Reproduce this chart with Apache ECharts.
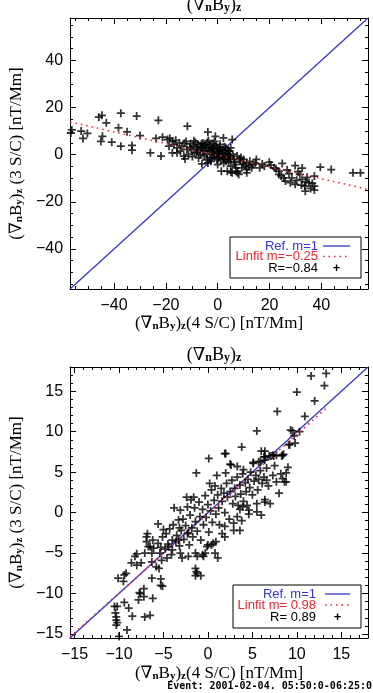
<!DOCTYPE html>
<html>
<head>
<meta charset="utf-8">
<script src="https://cdn.jsdelivr.net/npm/echarts@6/dist/echarts.min.js"></script>
<style>
  html, body { margin: 0; padding: 0; background: #fff; }
  #container { width: 373px; height: 693px; }
</style>
</head>
<body>
<div id="container"></div>
<script>
// axis ranges and ticks
var topRange = [-57, 58];
var topTicks = [-40, -20, 0, 20, 40];
var topMinorStep = 5;
var botRange = [-15.5, 18];
var botTicks = [-15, -10, -5, 0, 5, 10, 15];
var botMinorStep = 1;

// fitted lines, end points
var fitTopX = [-57, 58];
var fitTopY = [13.9, -14.7];
var fitBotX = [-15.5, 13.5];
var fitBotY = [-15.35, 13.1];

// legend texts
var topLegend = ['Ref. m=1', 'Linfit m=\u22120.25', 'R=\u22120.84'];
var botLegend = ['Ref. m=1', 'Linfit m= 0.98', 'R= 0.89'];

// (grad_n B_y)_z, 4 S/C (x) against 3 S/C (y), upper panel
var topPoints = [
  [-56.7,9.2],[-56.3,10.5],[-52.7,10],[-52,6.9],[-50.3,9],[-45.9,15.9],[-44.7,16.7],[-45.1,5.6],
  [-44.5,7.8],[-43,13.5],[-40.9,5.3],[-38.3,11.4],[-37.4,17.6],[-37.4,3.6],[-35,9.7],[-33.1,3.9],
  [-33.1,1.9],[-31.3,16.4],[-30,8.1],[-26,0.8],[-23.8,6.9],[-22.9,14.6],[-21.9,-0.6],[-11.7,12.1],
  [-3.8,9.6],[-0.9,7.8],[2.2,7.1],[5.6,6.4],
  [-21.3,7.4],[-19.4,6.4],[-18.5,7.0],[-17.5,5.7],[-16.9,4.3],[-18.8,3.6],[-15.7,2.9],[-13.8,3.6],
  [-14.4,1.5],[-15.7,0.8],[-17.5,0.8],[-16.2,6.1],[-14.8,5.0],[-12.9,4.8],[-11.9,2.2],[-11.3,0.1],
  [-12.2,5.6],[-13.1,-0.6],[-12.6,-1.8],[-10.5,4.6],[-10.1,2.2],[-9.4,3.6],
  [-9.0,1.0],[-8.2,0.8],[-8.6,5.2],[-7.6,4.3],[-7.0,2.2],[-6.5,3.1],[-6.1,-3.9],[-5.7,5.0],
  [-5.9,1.4],[-5.2,-0.5],[-4.5,2.9],[-4.8,4.2],[-4.1,0.3],[-3.8,-3.5],[-3.6,6.0],[-3.2,1.5],
  [-2.9,3.9],[-2.4,-1.2],[-2.0,0.8],[-1.8,4.7],[-1.4,2.5],[-1.1,-0.4],[-0.7,3.6],[-0.4,-2.2],
  [0,1.2],[0,-4.2],[0.5,2.2],[0.6,-0.9],[0.9,4.4],[1.2,-2.0],[1.4,-7.0],[1.6,0.3],[1.9,0.8],
  [2.3,-3.6],[2.6,3.4],[3.1,2.9],[3.1,-2.8],[3.4,-0.8],[3.7,-7.0],[4.0,1.8],[4.4,1.5],[4.6,-1.9],
  [5.0,2.9],[5.0,-1.4],[5.0,-4.9],[5.1,-7.3],[5.6,-7.7],[5.8,0.2],
  [-8.0,3.0],[-6.8,0.0],[-5.0,1.8],[-3.0,-1.5],[-2.5,2.0],[-1.5,0.2],[-0.5,1.0],[0.3,-1.5],
  [1.0,1.5],[2.0,-1.0],[2.8,0.5],[3.8,-1.4],[4.2,-3.0],[-9.8,-0.8],[-7.4,-1.4],[-4.4,-2.2],
  [-10.8,3.1],[-9.2,5.9],[-7.9,1.7],[-6.3,4.6],[-5.4,3.5],[-4.0,5.2],[-3.4,2.8],[-2.2,3.2],
  [-1.2,5.6],[-0.2,2.8],[0.8,3.0],[1.8,2.0],[2.4,-1.8],[3.6,0.6],[4.8,-0.4],[-2.6,-2.8],
  [6.2,-2.0],[6.5,-3.3],[6.8,-4.2],[7.5,-0.6],[7.6,-7.7],[7.5,-7.0],[8.1,-8.4],[8.7,-2.8],
  [9.0,-1.2],[9.3,-5.6],[9.8,-3.9],[10.0,-2.0],[10.6,-4.6],[11.2,-3.5],[11.2,-6.3],[11.2,-7.7],
  [12.4,-2.8],[12.0,-5.0],[13.1,-5.6],[13.7,-4.2],[14.9,-2.0],[14.5,-3.6],[7.0,-5.6],[8.4,-1.9],
  [16.2,-5.6],[17.2,-4.0],[18.0,-4.9],[19.9,-3.2],[20.5,-4.4],[21.8,-5.6],[22.5,-6.0],[23.6,-7.0],
  [23.6,-8.4],[24.5,-9.0],[24.9,-3.7],[25.5,-9.8],[26.1,-11.2],[26.8,-6.5],[27.5,-8.0],[28.0,-11.9],
  [28.6,-9.8],[29.9,-4.6],[29.9,-12.6],[30.5,-10.9],[31.0,-7.2],[31.7,-8.4],[32.3,-12.9],[32.6,-5.7],
  [32.6,-10.5],[33.6,-13.3],[33.8,-15.5],[34.0,-11.5],[34.5,-9.6],[35.2,-11.9],[35.8,-14.3],[36.5,-12.2],
  [37.3,-9.1],[37.3,-13.3],[37.3,-15.0],[39.6,-5.3],[43.8,-6.3],[52.2,-7.7],[55.1,-7.7]
];

// lower panel
var botPoints = [
  [11.6,16.9],[13.3,17.2],[13.1,15.7],[10.0,14.9],[12.0,13.8],[7.8,12.5],[10.9,11.9],[5.5,10.1],
  [9.3,10.2],[9.5,10.1],[10.3,10.0],[9.7,9.5],[9.2,8.4],[9.8,8.6],[3.8,8.1],[2.0,7.3],[6.0,7.6],
  [6.4,7.6],[6.3,6.9],[6.9,7.0],[7.4,7.0],[8.5,7.2],[8.3,7.0],[5.1,6.2],[5.9,6.3],[2.5,6.0],
  [0.1,6.7],[1.9,7.3],[-1.3,4.9],[2.6,5.9],[3.3,5.7],[4.0,5.3],[5.1,6.1],[5.7,6.3],[6.4,6.9],
  [7.1,7.0],[8.4,7.1],[7.5,5.8],[9.0,5.6],[5.7,4.1],[6.8,3.3],[7.7,3.8],[8.6,3.8],[8.0,2.4],
  [6.4,1.6],[7.0,1.1],[6.0,-0.3],[4.6,0.3],[5.5,0.1],[3.6,0.4],[8.8,4.9],[8.4,4.2],[8.8,3.8],
  [9.1,8.4],[7.3,4.6],[8.2,4.8],[6.6,4.0],[6.4,6.5],[7.3,7.1],[7.7,7.1],[5.5,1.1],[6.4,1.3],
  [-1.4,-5.0],[-1.2,-5.4],[-1.4,-6.9],[-1.2,-7.5],[-0.5,-5.4],[-0.3,-5.0],[-0.1,-4.2],[0.8,-5.0],
  [1.1,-5.6],[1.9,-3.0],[2.9,-1.3],[1.9,-1.7],[3.3,-0.5],[3.9,0.7],[4.4,0.9],[-1.3,-7.3],
  [-0.8,-7.8],[-1.4,-7.8],[-2.2,-5.4],[-0.6,-5.2],[0,-4.0],[0.4,-4.0],[0.6,-3.8],[0.9,-3.6],
  [-10.1,-8.1],[-9.4,-7.7],[-9.5,-8.5],[-9.2,-7.5],[-8.6,-6.2],[-7.5,-6.2],[-8.2,-5.4],[-8.0,-6.5],
  [-7.1,-5.0],[-6.3,-5.0],[-6.1,-4.4],[-6.7,-4.2],[-6.9,-3.6],[-7.2,-10.4],[-7.6,-10.0],[-7.8,-10.8],
  [-9.4,-11.1],[-8.9,-11.8],[-10.2,-11.6],[-6.2,-10.6],[-7.2,-9.4],[-5.3,-9.0],[-5.3,-8.2],[-6.3,-8.1],
  [-10.5,-11.6],[-10.4,-12.4],[-10.3,-12.9],[-10.3,-13.3],[-10.2,-13.6],[-10.3,-13.9],[-8.5,-12.8],
  [-7.1,-12.9],[-6.5,-12.7],[-9.1,-14.5],[-10.0,-15.3],[-5.4,-5.0],[-6.3,-6.1],[-5.8,-6.7],[-5.5,-6.9],
  [-3.1,-5.0],[-4.1,-5.2],[-5.2,-5.9],[-5.1,-9.1],[-7.7,-9.9],[-8.0,-5.1],[-6.5,-4.2],[-6.8,-2.6],
  [-6.9,-3.0],[-6.2,-3.4],[-5.6,-3.8],[-5.1,-3.0],[-4.7,-2.6],[-4.0,-3.4],[-3.2,-1.9],[-3.3,-0.9],
  [-3.1,0.3],[-2.3,0.7],[-1.9,1.6],[-4.4,-4.2],[-3.3,-3.4],[-2.2,-2.5],
  [-4.8,-4.5],[-4.5,-3.9],[-4.3,-2.0],[-4.0,-4.6],[-3.9,-1.5],[-3.6,-3.6],[-3.5,-2.8],[-3.2,-4.1],
  [-3.0,-2.2],[-2.8,-0.8],[-2.7,-3.3],[-2.5,-1.6],[-2.3,-2.6],[-2.1,-4.0],[-2.0,-0.3],[-1.8,-1.9],
  [-1.7,-3.0],[-1.5,0.6],[-1.4,-1.1],[-1.2,-2.3],[-1.0,1.3],[-0.9,-0.5],[-0.8,-3.4],[-0.6,0.4],
  [-0.5,-1.5],[-0.3,2.1],[-0.2,-0.6],[0,1.0],[0.1,-2.4],[0.3,0.2],[0.4,2.8],[0.5,-1.2],[0.7,1.5],
  [0.8,3.3],[0.9,-0.2],[1.1,2.2],[1.2,0.6],[1.3,-1.5],[1.5,3.0],[1.6,1.4],[1.8,2.4],[1.9,0.0],
  [2.1,3.6],[2.2,1.9],[2.4,-0.8],[2.5,2.6],[2.7,4.0],[2.8,1.1],[3.0,3.0],[3.1,2.0],[3.3,4.4],
  [3.4,0.9],[3.6,3.4],[3.7,2.3],[3.9,4.8],[4.0,1.4],[4.2,3.7],[4.3,2.6],[4.5,4.1],[4.7,3.1],
  [4.8,5.0],[5.0,2.2],[5.2,3.9],[5.4,4.6],[5.6,2.8],[5.9,5.2],[6.1,3.6],[6.3,4.4],[6.6,5.5],
  [-4.6,-5.6],[-5.0,-2.1],[-5.3,-4.3],[-5.6,-1.4],[-2.9,-5.6],[-1.6,1.9],[0.2,3.6],[1.0,4.6],
  [2.0,4.9],[-2.4,1.9],[-3.8,0.6],[1.6,-2.6],[2.9,-2.2],[3.8,-1.0],[4.6,-0.2],[3.6,-2.2]
];

var black = '#000';
var blue = '#3535d0';
var red = '#e8262e';
var serif = '"Liberation Serif", "DejaVu Serif", serif';
var sans = '"Liberation Sans", Arial, sans-serif';
var plus = 'path://M0,3.9H10V6.1H0Z M3.9,0H6.1V10H3.9Z';

function minorTicks(range, step, major) {
  var out = [];
  var v = Math.ceil(range[0] / step) * step;
  for (; v <= range[1]; v += step) {
    if (major.indexOf(v) < 0) out.push(v);
  }
  return out;
}

function minusSign(v) {
  return String(v).replace('-', '\u2212');
}

var subRich = {
  s: { fontSize: 11, fontWeight: 'bold', fontFamily: serif, verticalAlign: 'bottom', lineHeight: 13 }
};

// 4 axes for one side pair: main + minor on bottom/left, main + minor on top/right
function axisSet(dim, grid, range, major, step, name, nameGap) {
  var minor = minorTicks(range, step, major);
  var line = { color: black, width: 1 };
  var pos = dim == 'x' ? ['bottom', 'top'] : ['left', 'right'];
  var list = [];
  var k;
  for (k = 0; k < 2; k++) {
    list.push({
      type: 'value', gridIndex: grid, position: pos[k],
      min: range[0], max: range[1],
      axisLine: { show: true, onZero: false, lineStyle: line },
      axisTick: { show: true, inside: true, length: 6, customValues: major, lineStyle: line },
      axisLabel: {
        show: k == 0, customValues: major, formatter: minusSign,
        color: black, fontFamily: sans, fontSize: 16, margin: dim == 'x' ? 9 : 7
      },
      splitLine: { show: false },
      name: k == 0 ? name : '',
      nameLocation: 'middle',
      nameGap: nameGap,
      nameTextStyle: { color: black, fontFamily: serif, fontSize: 17, rich: subRich }
    });
    list.push({
      type: 'value', gridIndex: grid, position: pos[k],
      min: range[0], max: range[1],
      axisLine: { show: false, onZero: false },
      axisTick: { show: true, inside: true, length: 3, customValues: minor, lineStyle: line },
      axisLabel: { show: false },
      splitLine: { show: false }
    });
  }
  return list;
}

var xName = '(\u2207{s|n}B{s|y}){s|z}(4 S/C) [nT/Mm]';
var yName = '(\u2207{s|n}B{s|y}){s|z} (3 S/C) [nT/Mm]';

var xAxes = axisSet('x', 0, topRange, topTicks, topMinorStep, xName, 24)
  .concat(axisSet('x', 1, botRange, botTicks, botMinorStep, xName, 27));
var yAxes = axisSet('y', 0, topRange, topTicks, topMinorStep, yName, 43)
  .concat(axisSet('y', 1, botRange, botTicks, botMinorStep, yName, 43));

function refLine(range) {
  return [[range[0], range[0]], [range[1], range[1]]];
}
function pairs(xs, ys) {
  var out = [];
  for (var i = 0; i < xs.length; i++) out.push([xs[i], ys[i]]);
  return out;
}

function panelSeries(axisIndex, points, range, fx, fy) {
  return [{
    type: 'line', xAxisIndex: axisIndex, yAxisIndex: axisIndex,
    data: refLine(range), symbol: 'none', silent: true,
    lineStyle: { color: blue, width: 1.3 }, z: 2
  }, {
    type: 'scatter', xAxisIndex: axisIndex, yAxisIndex: axisIndex,
    data: points, symbol: plus, symbolSize: 8, silent: true,
    itemStyle: { color: black }, z: 3
  }, {
    type: 'line', xAxisIndex: axisIndex, yAxisIndex: axisIndex,
    data: pairs(fx, fy), symbol: 'none', silent: true,
    lineStyle: { color: red, width: 1.5, type: [1.5, 4] }, z: 4
  }];
}

function legendBox(x, y, w, h, rows, texts, tx, lx1, lx2) {
  var els = [{
    type: 'rect', shape: { x: x, y: y, width: w, height: h },
    style: { fill: '#fff', stroke: black, lineWidth: 1 }, z: 100
  }];
  var colors = [blue, red, black];
  for (var i = 0; i < 3; i++) {
    els.push({
      type: 'text', z: 101,
      style: { text: texts[i], x: tx, y: rows[i], textAlign: 'right', textVerticalAlign: 'middle',
        fill: colors[i], font: '13px ' + sans }
    });
  }
  els.push({ type: 'line', z: 101, shape: { x1: lx1, y1: rows[0], x2: lx2, y2: rows[0] },
    style: { stroke: blue, lineWidth: 1.3 } });
  els.push({ type: 'line', z: 101, shape: { x1: lx1, y1: rows[1], x2: lx2, y2: rows[1] },
    style: { stroke: red, lineWidth: 1.5, lineDash: [1.5, 4] } });
  els.push({ type: 'text', z: 101,
    style: { text: '+', x: (lx1 + lx2) / 2, y: rows[2], textAlign: 'center', textVerticalAlign: 'middle',
      fill: black, font: 'bold 13px ' + sans } });
  return els;
}

var titleText = '(\u2207{b|n}B{b|y}){b|z}';
var titleRich = {
  b: { fontSize: 12, fontWeight: 'bold', fontFamily: serif, verticalAlign: 'bottom', lineHeight: 14 }
};

var graphics = [
  { type: 'text', style: { text: titleText, x: 214, y: -4, textAlign: 'center', fill: black,
      font: '18px ' + serif, rich: titleRich } },
  { type: 'text', style: { text: titleText, x: 214, y: 346, textAlign: 'center', fill: black,
      font: '18px ' + serif, rich: titleRich } },
  { type: 'text', style: { text: 'Event: 2001-02-04. 05:50:0-06:25:0', x: 372, y: 686,
      textAlign: 'right', textVerticalAlign: 'middle', fill: black,
      font: 'bold 10px "DejaVu Sans Mono", monospace' } }
].concat(legendBox(230, 237, 131, 41, [246, 256.5, 268], topLegend, 318, 323, 350))
 .concat(legendBox(233, 585, 128, 43, [594, 605, 617], botLegend, 316, 325, 350));

var myChart = echarts.init(document.getElementById('container'));
var option = {
  animation: false,
  backgroundColor: '#fff',
  grid: [
    { left: 61, top: 18, width: 307, height: 271 },
    { left: 61, top: 367, width: 307, height: 271 }
  ],
  xAxis: xAxes,
  yAxis: yAxes,
  series: panelSeries(0, topPoints, topRange, fitTopX, fitTopY)
    .concat(panelSeries(4, botPoints, botRange, fitBotX, fitBotY)),
  graphic: graphics
};
myChart.setOption(option);
</script>
</body>
</html>
